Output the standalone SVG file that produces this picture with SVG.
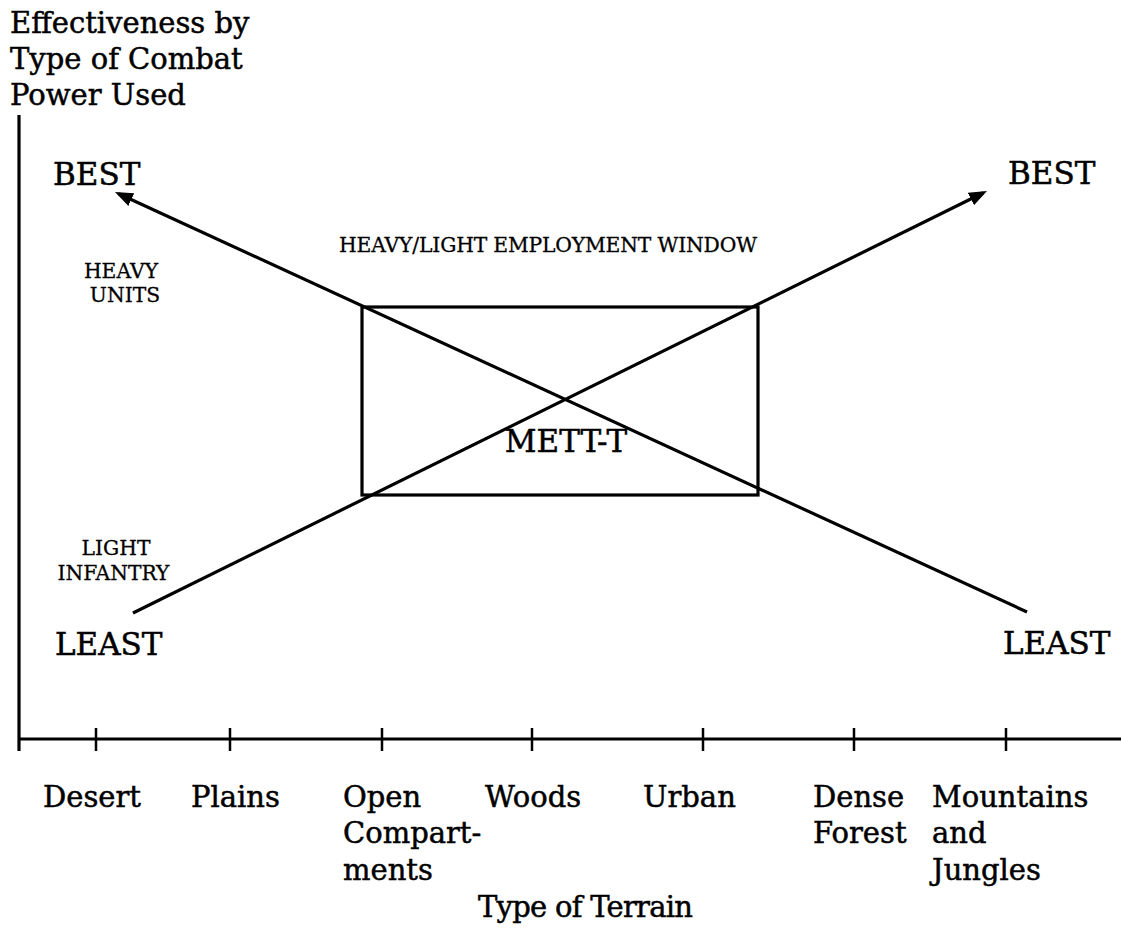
<svg xmlns="http://www.w3.org/2000/svg" width="1121" height="928" viewBox="0 0 1121 928">
<style>
.big{font-family:"DejaVu Serif","Liberation Serif",serif;font-size:29px;fill:#000;stroke:#000;stroke-width:0.5}
.lbl{font-family:"DejaVu Serif","Liberation Serif",serif;font-size:31px;fill:#000;stroke:#000;stroke-width:0.5}
.sm{font-family:"DejaVu Serif","Liberation Serif",serif;font-size:20.3px;fill:#000;stroke:#000;stroke-width:0.3}
.ln{stroke:#000;stroke-width:3.2;fill:none}
.tk{stroke:#000;stroke-width:2.5}
</style>
<defs>
<marker id="arr" viewBox="0 0 18 14" markerWidth="18" markerHeight="14" refX="14" refY="7" orient="auto" markerUnits="userSpaceOnUse">
<path d="M0,0 L18,7 L0,14 z" fill="#000"/>
</marker>
</defs>
<rect width="1121" height="928" fill="#fff"/>
<g id="y-axis-title">
<text class="big" x="10" y="33">Effectiveness by</text>
<text class="big" x="10" y="69">Type of Combat</text>
<text class="big" x="10" y="105">Power Used</text>
</g>
<g id="axes">
<line class="ln" x1="19" y1="115" x2="19" y2="751"/>
<line class="ln" x1="19" y1="739" x2="1121" y2="739"/>
<line class="tk" x1="96" y1="728" x2="96" y2="751"/>
<line class="tk" x1="230" y1="728" x2="230" y2="751"/>
<line class="tk" x1="382" y1="728" x2="382" y2="751"/>
<line class="tk" x1="532" y1="728" x2="532" y2="751"/>
<line class="tk" x1="703" y1="728" x2="703" y2="751"/>
<line class="tk" x1="854" y1="728" x2="854" y2="751"/>
<line class="tk" x1="1006" y1="728" x2="1006" y2="751"/>
</g>
<g id="best-left"><text class="lbl" x="53" y="185">BEST</text></g>
<g id="best-right"><text class="lbl" x="1008" y="184">BEST</text></g>
<g id="least-left"><text class="lbl" x="55" y="655">LEAST</text></g>
<g id="least-right"><text class="lbl" x="1003" y="654">LEAST</text></g>
<g id="heavy-units">
<text class="sm" x="121" y="278" text-anchor="middle">HEAVY</text>
<text class="sm" x="125" y="302" text-anchor="middle">UNITS</text>
</g>
<g id="light-infantry">
<text class="sm" x="116" y="555" text-anchor="middle">LIGHT</text>
<text class="sm" x="113.5" y="580" text-anchor="middle">INFANTRY</text>
</g>
<g id="window-label"><text class="sm" x="339" y="252" textLength="418">HEAVY/LIGHT EMPLOYMENT WINDOW</text></g>
<g id="window">
<rect class="ln" x="362" y="307" width="396" height="188"/>
<text class="lbl" x="566" y="452" text-anchor="middle">METT-T</text>
</g>
<g id="connectors">
<line class="ln" x1="1027" y1="612" x2="118.6" y2="193.7" marker-end="url(#arr)"/>
<line class="ln" x1="133" y1="613" x2="983.4" y2="192.8" marker-end="url(#arr)"/>
</g>
<g id="terrain-labels">
<text class="big" x="43" y="807">Desert</text>
<text class="big" x="191" y="807">Plains</text>
<text class="big" x="343" y="807">Open</text>
<text class="big" x="343" y="843">Compart-</text>
<text class="big" x="343" y="880">ments</text>
<text class="big" x="485" y="807">Woods</text>
<text class="big" x="643" y="807">Urban</text>
<text class="big" x="813" y="807">Dense</text>
<text class="big" x="813" y="843">Forest</text>
<text class="big" x="932" y="807">Mountains</text>
<text class="big" x="932" y="843">and</text>
<text class="big" x="932" y="880">Jungles</text>
</g>
<g id="x-axis-title"><text class="big" x="478" y="917" textLength="215">Type of Terrain</text></g>
</svg>
